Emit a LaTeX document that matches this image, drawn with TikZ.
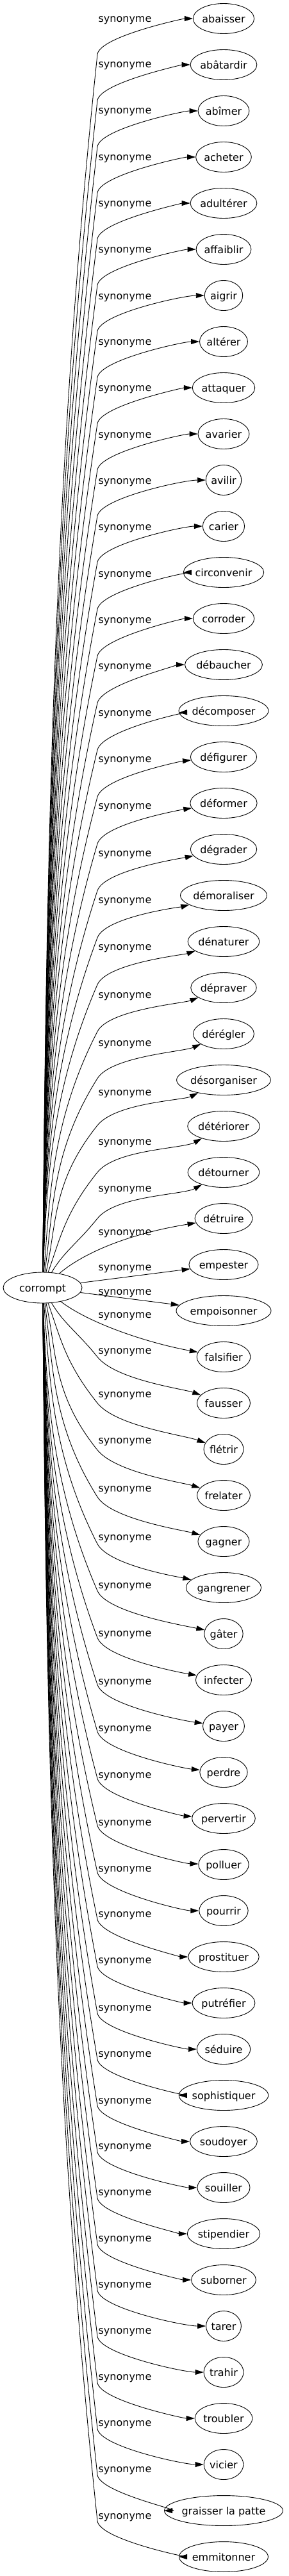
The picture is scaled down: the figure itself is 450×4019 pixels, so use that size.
\documentclass[tikz,border=0pt]{standalone}
\usepackage{fontspec}
\setmainfont{DejaVu Sans}
\usetikzlibrary{arrows.meta,shapes.geometric,calc}
\newlength\twid
\begin{document}
\begin{tikzpicture}[x=1pt,y=1pt,
  every node/.style={font=\fontsize{16}{19}\selectfont},
  word/.style={draw, ellipse, line width=0.9pt, inner sep=0pt, minimum height=47pt, text height=12pt, text depth=0pt},
  rel/.style={line width=0.9pt, -{Triangle[length=13pt,width=8pt]}},
  lab/.style={inner sep=0pt, anchor=base}]
\useasboundingbox (0,0) rectangle (450,-4019);
\node[word, minimum width=123pt, minimum height=48pt] (root) at (66.5,-2009) {corrompt};
\foreach \i/\w/\ly in {0/abaisser/30, 1/abâtardir/101, 2/abîmer/173, 3/acheter/246, 4/adultérer/318, 5/affaiblir/390, 6/aigrir/463, 7/altérer/534, 8/attaquer/606, 9/avarier/679, 10/avilir/751, 11/carier/823, 12/circonvenir/896, 13/corroder/968, 14/débaucher/1040, 15/décomposer/1113, 16/défigurer/1185, 17/déformer/1258, 18/dégrader/1332, 19/démoraliser/1405, 20/dénaturer/1478, 21/dépraver/1553, 22/dérégler/1628, 23/désorganiser/1705, 24/détériorer/1782, 25/détourner/1855, 26/détruire/1923, 27/empester/1978, 28/empoisonner/2016, 29/falsifier/2052, 30/fausser/2108, 31/flétrir/2176, 32/frelater/2248, 33/gagner/2323, 34/gangrener/2399, 35/gâter/2474, 36/infecter/2549, 37/payer/2624, 38/perdre/2697, 39/pervertir/2770, 40/polluer/2844, 41/pourrir/2916, 42/prostituer/2987, 43/putréfier/3059, 44/séduire/3133, 45/sophistiquer/3205, 46/soudoyer/3278, 47/souiller/3349, 48/stipendier/3421, 49/suborner/3493, 50/tarer/3565, 51/trahir/3637, 52/troubler/3709, 53/vicier/3781, 54/graisser la patte/3853, 55/emmitonner/3926}{
  \settowidth\twid{\fontsize{16}{19}\selectfont \w}
  \pgfmathsetmacro\ew{1.2*\twid+35}
  \pgfmathsetmacro\yt{29+72*\i}
  \node[word, minimum width=\ew pt] (n\i) at (349,-\yt) {\w};
  \node[lab] at (195,-\ly-4) {synonyme};
  \ifnum\i<26 \def\gen{1}\else\ifnum\i>29 \def\gen{1}\else\def\gen{0}\fi\fi
  \if1\gen
    \pgfmathsetmacro\ed{\yt-2009}
    \pgfmathsetmacro\es{(\ed<0 ? -1 : 1)}
    \pgfmathsetmacro\ea{abs(\ed)}
    \pgfmathsetmacro\eb{56+16*max(0,min(1,1-(\ea-250)/950))}
    \pgfmathsetmacro\ewy{\yt-\es*\eb}
    \pgfmathsetmacro\eL{\ea-\eb}
    \pgfmathsetmacro\esl{min(0.8,205/\eL)}
    \pgfmathsetmacro\eh{0.35*\eL}
    \pgfmathsetmacro\cax{72+30*max(0,1-(\ea-150)/400)}
    \pgfmathsetmacro\cay{2009+\es*(24+0.3*\eL)}
    \pgfmathsetmacro\cbx{152-\esl*\eh}
    \pgfmathsetmacro\cby{\ewy-\es*\eh}
    \pgfmathsetmacro\ehh{0.5*\eb}
    \pgfmathsetmacro\qax{152+\esl*\ehh}
    \pgfmathsetmacro\qay{\ewy+\es*\ehh}
    \pgfmathsetmacro\eoff{(\es<0 ? 16 : -10)*max(0,min(1,1-(\ea-250)/700))}
    \pgfmathsetmacro\qbx{349-\ew/2-45}
    \pgfmathsetmacro\qby{\yt+2.2*\eoff}
    \draw[rel] (root) .. controls (\cax,-\cay) and (\cbx,-\cby) .. (152,-\ewy) .. controls (\qax,-\qay) and (\qbx,-\qby) .. (n\i);
  \fi
}
\draw[rel] (root) .. controls (130,-1955) and (200,-1925) .. (n26);
\draw[rel] (root) -- (n27);
\draw[rel] (root) -- (n28);
\draw[rel] (root) .. controls (140,-2065) and (230,-2095) .. (n29);
\end{tikzpicture}
\end{document}
